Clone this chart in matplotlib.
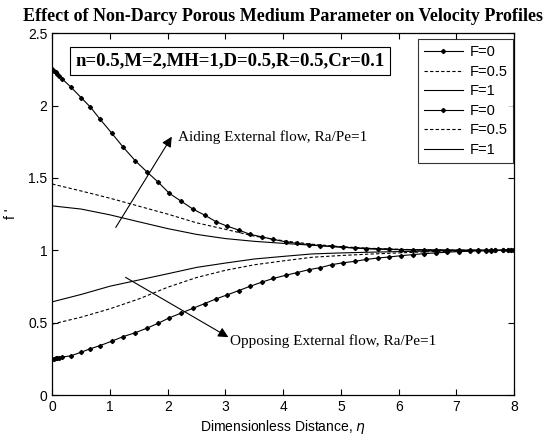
import numpy as np
from matplotlib import pyplot as plt

# solver mesh points where the F=0 curves carry markers
eta_mesh = [0, 0.03, 0.06, 0.09, 0.12, 0.17, 0.33, 0.5, 0.66, 0.83, 1.03, 1.23, 1.44,
            1.64, 1.84, 2.03, 2.23, 2.44, 2.64, 2.84, 3.03, 3.23, 3.43, 3.63, 3.83,
            4.04, 4.24, 4.44, 4.64, 4.84, 5.04, 5.24, 5.44, 5.64, 5.84, 6.04, 6.24,
            6.44, 6.64, 6.84, 7.04, 7.24, 7.38, 7.52, 7.6, 7.67, 7.8, 7.9, 7.95, 8.0]

aid_F0 = [2.255, 2.242, 2.23, 2.217, 2.205, 2.185, 2.125, 2.055, 1.99, 1.905, 1.81,
          1.712, 1.618, 1.542, 1.469, 1.393, 1.34, 1.284, 1.243, 1.197, 1.167, 1.14,
          1.11, 1.093, 1.075, 1.059, 1.048, 1.04, 1.033, 1.027, 1.021, 1.015, 1.011,
          1.008, 1.006, 1.004, 1.003, 1.002, 1.001, 1.001, 1.0, 1.0, 1.0, 1.0, 1.0,
          1.0, 1.0, 1.0, 1.0, 1.0]

opp_F0 = [0.25, 0.252, 0.254, 0.256, 0.258, 0.262, 0.272, 0.296, 0.32, 0.342, 0.372,
          0.404, 0.431, 0.462, 0.497, 0.534, 0.566, 0.6, 0.632, 0.665, 0.692, 0.722,
          0.752, 0.78, 0.806, 0.827, 0.846, 0.866, 0.88, 0.901, 0.914, 0.924, 0.937,
          0.947, 0.954, 0.963, 0.97, 0.977, 0.982, 0.987, 0.991, 0.994, 0.996, 0.997,
          0.998, 0.999, 0.999, 1.0, 1.0, 1.0]

eta = [0, 0.5, 1.0, 1.5, 2.0, 2.5, 3.0, 3.5, 4.0, 4.5, 5.0, 5.5, 6.0, 6.5, 7.0, 7.5, 8.0]
aid_F05 = [1.458, 1.41, 1.36, 1.305, 1.25, 1.19, 1.145, 1.098, 1.066, 1.042, 1.025,
           1.014, 1.007, 1.003, 1.001, 1.0, 1.0]
aid_F1 = [1.307, 1.285, 1.245, 1.197, 1.15, 1.11, 1.081, 1.062, 1.048, 1.035, 1.022,
          1.012, 1.006, 1.003, 1.001, 1.0, 1.0]
opp_F05 = [0.49, 0.538, 0.596, 0.664, 0.745, 0.812, 0.862, 0.9, 0.927, 0.952, 0.964,
           0.974, 0.982, 0.99, 0.995, 0.998, 1.0]
opp_F1 = [0.644, 0.695, 0.752, 0.795, 0.838, 0.882, 0.912, 0.94, 0.958, 0.975, 0.982,
          0.987, 0.991, 0.995, 0.998, 1.0, 1.0]

labels = ['F=0', 'F=0.5', 'F=1', 'F=0', 'F=0.5', 'F=1']

serif = ['Liberation Serif', 'DejaVu Serif']
sans = ['Liberation Sans', 'DejaVu Sans']

fig = plt.figure(figsize=(5.47, 4.37), dpi=100)
ax = fig.add_axes([0.0955, 0.096, 0.8445, 0.828])

lw = 0.8
l1, = ax.plot(eta_mesh, aid_F0, '-', color='k', lw=lw, marker='D', ms=2.1)
l2, = ax.plot(eta, aid_F05, '--', color='k', lw=lw, dashes=(3, 2))
l3, = ax.plot(eta, aid_F1, '-', color='k', lw=lw)
l4, = ax.plot(eta_mesh, opp_F0, '-', color='k', lw=lw, marker='D', ms=2.1)
l5, = ax.plot(eta, opp_F05, '--', color='k', lw=lw, dashes=(3, 2))
l6, = ax.plot(eta, opp_F1, '-', color='k', lw=lw)

ax.set_xlim(0, 8)
ax.set_ylim(0, 2.5)
ax.set_xticks(range(0, 9))
ax.set_yticks([0, 0.5, 1, 1.5, 2, 2.5])
ax.set_yticklabels(['0', '0.5', '1', '1.5', '2', '2.5'])
ax.tick_params(direction='in', top=True, right=True, length=4, width=0.8,
               labelsize=10)
for lab in ax.get_xticklabels() + ax.get_yticklabels():
    lab.set_family(sans)
for s in ax.spines.values():
    s.set_linewidth(0.9)

ax.set_xlabel('Dimensionless Distance, $\\eta$', family=sans, fontsize=10, labelpad=3)
ax.set_ylabel("f '", family=sans, fontsize=10, labelpad=7)
ax.set_title('Effect of Non-Darcy Porous Medium Parameter on Velocity Profiles',
             family=serif, fontweight='bold', fontsize=13, pad=9)

ax.text(0.4, 2.31, 'n=0.5,M=2,MH=1,D=0.5,R=0.5,Cr=0.1', family=serif,
        fontweight='bold', fontsize=13.5, va='center',
        bbox=dict(boxstyle='square,pad=0.3', fc='white', ec='k', lw=0.8))

ax.annotate('', xy=(2.07, 1.785), xytext=(1.1, 1.158),
            arrowprops=dict(arrowstyle='-|>', color='k', lw=0.8,
                            mutation_scale=15, shrinkA=0, shrinkB=0))
ax.text(2.18, 1.78, 'Aiding External flow, Ra/Pe=1', family=serif, fontsize=11,
        va='center')
ax.annotate('', xy=(3.05, 0.4), xytext=(1.27, 0.813),
            arrowprops=dict(arrowstyle='-|>', color='k', lw=0.8,
                            mutation_scale=15, shrinkA=0, shrinkB=0))
ax.text(3.08, 0.37, 'Opposing External flow, Ra/Pe=1', family=serif, fontsize=11,
        va='center')

leg = ax.legend([l1, l2, l3, l4, l5, l6], labels, loc='upper right',
                bbox_to_anchor=(0.9985, 0.983), prop={'family': sans, 'size': 10.5},
                frameon=True, fancybox=False, handlelength=2.7, labelspacing=0.38,
                borderpad=0.4, handletextpad=0.45, borderaxespad=0)
leg.get_frame().set_edgecolor('k')
leg.get_frame().set_linewidth(0.8)

plt.savefig('out.png', dpi=100)
